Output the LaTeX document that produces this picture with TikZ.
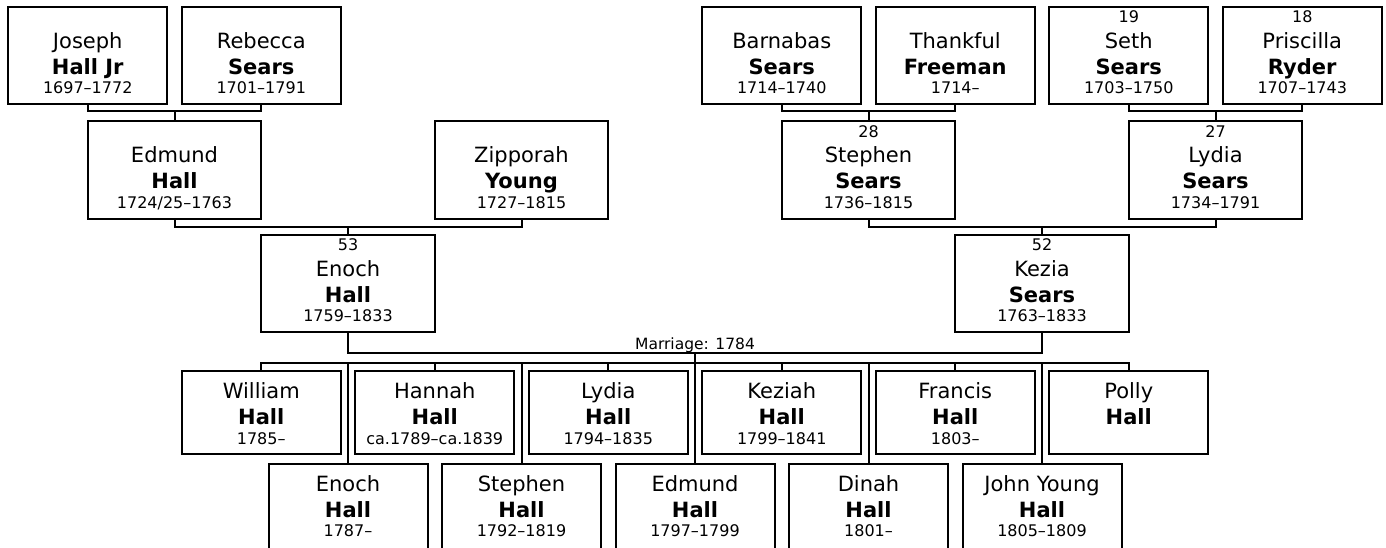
\documentclass[tikz,border=0pt]{standalone}
\usepackage{fontspec}
\setmainfont{DejaVu Sans}
\usetikzlibrary{calc}
\tikzset{
 box/.style={draw, line width=2pt, inner sep=0pt, outer sep=0pt, fill=white},
 small/.style={box, minimum width=159pt, minimum height=97.5pt},
 wide/.style={box, minimum width=173.5pt, minimum height=97.5pt},
 kid/.style={box, minimum width=159pt, minimum height=83pt},
 kidlow/.style={box, minimum width=159pt, minimum height=100pt},
 conn/.style={line width=2pt},
 numtext/.style={anchor=base, inner sep=0pt, font=\fontsize{16}{19}\selectfont},
 giventext/.style={anchor=base, inner sep=0pt, font=\fontsize{21}{25}\selectfont},
 surtext/.style={anchor=base, inner sep=0pt, font=\fontsize{21}{25}\selectfont\bfseries},
 datetext/.style={anchor=base, inner sep=0pt, font=\fontsize{16}{19}\selectfont},
 martext/.style={anchor=base, inner sep=0pt, font=\fontsize{15.5}{18}\selectfont},
}
% #1 id, #2 style, #3 centre, #4 number, #5 given, #6 surname, #7 dates, #8 shift
\newcommand\person[8]{%
 \node[#2] (#1) at (#3) {};
 \if\relax\detokenize{#4}\relax\else
 \node[numtext] (#1-n) at ($(#1.north)+(0,{16+(#8)})$) {#4};\fi
 \node[giventext] (#1-g) at ($(#1.north)+(0,{41.5+(#8)})$) {#5};
 \node[surtext] (#1-s) at ($(#1.north)+(0,{67.5+(#8)})$) {#6};
 \if\relax\detokenize{#7}\relax\else
 \node[datetext] (#1-d) at ($(#1.north)+(0,{87+(#8)})$) {#7};\fi
}
\begin{document}
\begin{tikzpicture}[x=1pt,y=-1pt]
\useasboundingbox (0,0) rectangle (1386,548);
\clip (0,0) rectangle (1386,548);
\fill[white] (0,0) rectangle (1386,548);
% great-grandparents
\person{joseph}{small}{87.75,55.5}{}{Joseph}{Hall Jr}{1697–1772}{0}
\person{rebecca}{small}{261.25,55.5}{}{Rebecca}{Sears}{1701–1791}{0}
\person{barnabas}{small}{781.75,55.5}{}{Barnabas}{Sears}{1714–1740}{0}
\person{thankful}{small}{955.25,55.5}{}{Thankful}{Freeman}{1714–}{0}
\person{seth}{small}{1128.75,55.5}{19}{Seth}{Sears}{1703–1750}{0}
\person{priscilla}{small}{1302.25,55.5}{18}{Priscilla}{Ryder}{1707–1743}{0}
% grandparents
\person{edmund}{wide}{174.5,170}{}{Edmund}{Hall}{1724/25–1763}{0}
\person{zipporah}{wide}{521.5,170}{}{Zipporah}{Young}{1727–1815}{0}
\person{stephen}{wide}{868.5,170}{28}{Stephen}{Sears}{1736–1815}{0}
\person{lydia}{wide}{1215.5,170}{27}{Lydia}{Sears}{1734–1791}{0}
% parents
\person{enoch}{wide}{348,283.3}{53}{Enoch}{Hall}{1759–1833}{0}
\person{kezia}{wide}{1042,283.3}{52}{Kezia}{Sears}{1763–1833}{0}
% children, upper row
\person{c-william}{kid}{261.25,412.5}{}{William}{Hall}{1785–}{-14}
\person{c-hannah}{kid}{434.75,412.5}{}{Hannah}{Hall}{ca.1789–ca.1839}{-14}
\person{c-lydia}{kid}{608.25,412.5}{}{Lydia}{Hall}{1794–1835}{-14}
\person{c-keziah}{kid}{781.75,412.5}{}{Keziah}{Hall}{1799–1841}{-14}
\person{c-francis}{kid}{955.25,412.5}{}{Francis}{Hall}{1803–}{-14}
\person{c-polly}{kid}{1128.75,412.5}{}{Polly}{Hall}{}{-14}
% children, lower row
\person{c-enoch}{kidlow}{348,513.7}{}{Enoch}{Hall}{1787–}{-14}
\person{c-stephen}{kidlow}{521.5,513.7}{}{Stephen}{Hall}{1792–1819}{-14}
\person{c-edmund}{kidlow}{695,513.7}{}{Edmund}{Hall}{1797–1799}{-14}
\person{c-dinah}{kidlow}{868.5,513.7}{}{Dinah}{Hall}{1801–}{-14}
\person{c-john}{kidlow}{1042,513.7}{}{John Young}{Hall}{1805–1809}{-14}
% couples of great-grandparents
\draw[conn] (joseph.south) -- ++(0,7) coordinate (m1) -| (rebecca.south);
\draw[conn] (edmund.north) -- (edmund.north |- m1);
\draw[conn] (barnabas.south) -- ++(0,7) coordinate (m2) -| (thankful.south);
\draw[conn] (stephen.north) -- (stephen.north |- m2);
\draw[conn] (seth.south) -- ++(0,7) coordinate (m3) -| (priscilla.south);
\draw[conn] (lydia.north) -- (lydia.north |- m3);
% grandparents
\draw[conn] (edmund.south) -- ++(0,8) coordinate (m4) -| (zipporah.south);
\draw[conn] (enoch.north) -- (enoch.north |- m4);
\draw[conn] (stephen.south) -- ++(0,8) coordinate (m5) -| (lydia.south);
\draw[conn] (kezia.north) -- (kezia.north |- m5);
% marriage
\draw[conn] (enoch.south) -- ++(0,21) coordinate (mar) -| (kezia.south);
\path (mar) -- (mar -| kezia.south) coordinate[pos=0.5] (marmid);
\node[martext] (marlabel) at ([yshift=4pt]marmid) {Marriage: 1784};
\draw[conn] (marmid) -- (c-edmund.north);
% siblings
\draw[conn] (c-william.north) -- ++(0,-8.5) coordinate (sib) -| (c-polly.north);
\foreach \k in {c-hannah,c-lydia,c-keziah,c-francis,c-enoch,c-stephen,c-dinah,c-john}
 \draw[conn] (\k.north) -- (\k.north |- sib);
\end{tikzpicture}
\end{document}
